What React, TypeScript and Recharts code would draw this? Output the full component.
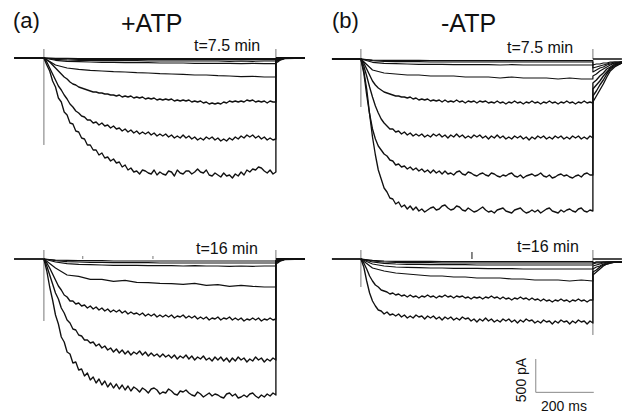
import React from "react";
import { LineChart, Line, XAxis, YAxis } from "recharts";

// ---------- time grids (ms) ----------
const T_FINE = [
  0, 10, 20, 30, 40, 50, 60, 70, 80, 90,
  100, 110, 120, 130, 140, 150, 160, 170, 180, 190,
  200, 210, 220, 230, 240, 250, 260, 270, 280, 290,
  300, 310, 320, 330, 340, 350, 360, 370, 380, 390,
  400, 410, 420, 430, 440, 450, 460, 470, 480, 490,
  500, 510, 520, 530, 540, 550, 560, 570, 580, 590,
  600, 610, 620, 630, 640, 650, 660, 670, 680, 690,
  700, 710, 720, 730, 740, 750, 760, 770, 780, 790,
  800,
];
const T_COARSE = [0, 40, 80, 120, 160, 200, 240, 280, 320, 360, 400, 440, 480, 520, 560, 600, 640, 680, 720, 760, 800];
const T_TAIL_A = [800, 806, 815, 830, 900];
const T_TAIL_B = [800, 812, 824, 836, 848, 860, 875, 900];
const T_PRE_A = [-103, -60, -20, 0];
const T_PRE_B = [-100, -60, -20, 0];
const I_PRE = [0, 0, 0, 0];
const T_POST = [800, 900];
const I_POST = [0, 0];
const T_ON = [0, 0];
const T_OFF = [800, 800];

// ---------- (a) +ATP, t = 7.5 min (pA) ----------
const A75_1 = [
  0, -105, -195, -345, -435, -600, -660, -810, -855, -975,
  -990, -1095, -1110, -1200, -1215, -1305, -1305, -1380, -1380, -1455,
  -1425, -1500, -1485, -1545, -1515, -1575, -1560, -1635, -1605, -1680,
  -1650, -1710, -1695, -1740, -1680, -1695, -1725, -1740, -1680, -1755,
  -1710, -1740, -1755, -1695, -1710, -1770, -1680, -1725, -1740, -1695,
  -1695, -1740, -1710, -1665, -1710, -1725, -1680, -1755, -1770, -1725,
  -1755, -1785, -1725, -1770, -1755, -1800, -1740, -1770, -1710, -1755,
  -1680, -1710, -1665, -1680, -1635, -1650, -1695, -1725, -1680, -1740,
  -1710,
];
const A75_2 = [
  0, -60, -150, -240, -330, -420, -480, -555, -615, -690,
  -735, -795, -825, -870, -885, -930, -930, -975, -960, -1005,
  -975, -1020, -1005, -1050, -1020, -1065, -1050, -1095, -1065, -1110,
  -1080, -1125, -1095, -1140, -1110, -1140, -1110, -1155, -1125, -1170,
  -1140, -1170, -1140, -1185, -1155, -1200, -1170, -1200, -1155, -1200,
  -1170, -1215, -1185, -1230, -1200, -1230, -1185, -1215, -1185, -1230,
  -1200, -1245, -1215, -1245, -1200, -1230, -1185, -1215, -1170, -1200,
  -1155, -1185, -1155, -1200, -1170, -1215, -1185, -1230, -1200, -1230,
  -1215,
];
const A75_3 = [
  0, -30, -60, -105, -150, -195, -240, -285, -315, -360,
  -390, -405, -435, -450, -465, -480, -495, -510, -510, -525,
  -525, -540, -540, -555, -555, -570, -555, -585, -570, -585,
  -570, -600, -585, -600, -585, -615, -600, -615, -600, -630,
  -615, -630, -615, -630, -615, -645, -630, -645, -630, -645,
  -630, -660, -645, -660, -645, -675, -660, -690, -675, -690,
  -675, -690, -660, -675, -645, -660, -645, -660, -645, -660,
  -630, -645, -630, -660, -645, -660, -645, -675, -645, -660,
  -660,
];
const A75_4 = [0, -105, -150, -170, -185, -195, -205, -210, -220, -225, -235, -240, -245, -255, -255, -265, -270, -280, -275, -285, -285];
const A75_5 = [0, -35, -50, -55, -60, -65, -65, -70, -70, -70, -75, -75, -75, -80, -80, -80, -80, -85, -80, -85, -85];
const A75_6 = [0, -20, -30, -35, -35, -40, -40, -40, -40, -45, -45, -45, -45, -45, -45, -45, -50, -45, -50, -45, -45];
const A75_7 = [0, -10, -15, -20, -20, -20, -20, -25, -25, -25, -25, -25, -25, -25, -25, -25, -25, -25, -25, -25, -25];
const A75_8 = [0, -5, -5, -10, -10, -10, -10, -10, -10, -10, -10, -10, -10, -10, -10, -10, -10, -10, -10, -10, -10];

// ---------- (a) +ATP, t = 16 min (pA) ----------
const A16_1 = [
  0, -180, -420, -615, -840, -975, -1170, -1245, -1395, -1425,
  -1560, -1545, -1665, -1650, -1755, -1710, -1815, -1770, -1860, -1800,
  -1890, -1830, -1920, -1860, -1935, -1875, -1950, -1890, -1965, -1905,
  -1980, -1920, -1950, -1995, -1935, -1965, -2010, -1950, -1935, -1965,
  -2025, -1995, -2010, -1950, -1980, -2025, -2040, -1980, -1995, -1965,
  -2010, -2040, -2055, -1995, -2025, -2070, -2040, -2010, -2055, -2025,
  -2040, -2070, -2085, -2025, -2010, -2055, -2025, -2085, -2070, -2040,
  -2070, -2025, -2010, -2055, -2085, -2040, -2070, -2025, -2055, -2010,
  -2040,
];
const A16_2 = [
  0, -105, -240, -375, -510, -600, -735, -810, -915, -960,
  -1050, -1065, -1140, -1155, -1215, -1215, -1260, -1245, -1305, -1275,
  -1335, -1305, -1365, -1335, -1395, -1350, -1410, -1365, -1425, -1380,
  -1440, -1395, -1425, -1380, -1440, -1395, -1455, -1410, -1455, -1425,
  -1470, -1425, -1470, -1440, -1485, -1440, -1500, -1455, -1485, -1440,
  -1500, -1455, -1515, -1470, -1500, -1455, -1515, -1485, -1530, -1470,
  -1515, -1470, -1530, -1485, -1545, -1485, -1530, -1470, -1515, -1485,
  -1545, -1500, -1530, -1470, -1515, -1485, -1545, -1500, -1530, -1485,
  -1515,
];
const A16_3 = [
  0, -60, -135, -225, -315, -405, -465, -540, -570, -630,
  -630, -675, -660, -705, -690, -735, -705, -750, -720, -765,
  -735, -780, -750, -795, -765, -795, -765, -810, -780, -825,
  -795, -825, -810, -840, -810, -855, -825, -855, -825, -870,
  -840, -870, -840, -870, -840, -885, -855, -870, -840, -885,
  -855, -885, -855, -900, -870, -900, -870, -915, -885, -900,
  -870, -915, -885, -900, -870, -915, -885, -915, -885, -930,
  -900, -915, -885, -915, -885, -930, -900, -915, -885, -915,
  -900,
];
const A16_4 = [0, -135, -240, -260, -305, -305, -335, -320, -350, -355, -365, -370, -380, -365, -395, -385, -410, -395, -410, -420, -420];
const A16_5 = [0, -45, -70, -80, -85, -90, -95, -95, -95, -100, -100, -100, -105, -100, -105, -105, -110, -105, -110, -105, -105];
const A16_6 = [0, -25, -40, -45, -50, -50, -55, -55, -55, -55, -60, -60, -60, -60, -60, -60, -60, -60, -60, -60, -60];
const A16_7 = [0, -15, -20, -25, -25, -25, -30, -30, -30, -30, -30, -30, -30, -30, -30, -30, -30, -30, -30, -30, -30];

// ---------- (b) -ATP, t = 7.5 min (pA) ----------
const B75_1 = [
  0, -180, -450, -825, -1170, -1440, -1665, -1800, -1935, -1995,
  -2085, -2100, -2175, -2145, -2220, -2190, -2250, -2205, -2265, -2220,
  -2280, -2250, -2295, -2265, -2235, -2220, -2265, -2250, -2205, -2190,
  -2235, -2265, -2250, -2205, -2220, -2265, -2280, -2235, -2265, -2295,
  -2280, -2250, -2220, -2265, -2295, -2280, -2310, -2265, -2250, -2235,
  -2280, -2295, -2310, -2265, -2250, -2235, -2280, -2310, -2295, -2265,
  -2295, -2265, -2310, -2280, -2250, -2235, -2280, -2295, -2310, -2265,
  -2295, -2265, -2250, -2280, -2295, -2250, -2235, -2280, -2295, -2265,
  -2280,
];
const B75_2 = [
  0, -210, -540, -825, -1050, -1200, -1305, -1365, -1425, -1455,
  -1515, -1530, -1590, -1575, -1620, -1605, -1650, -1620, -1665, -1635,
  -1680, -1650, -1695, -1665, -1710, -1665, -1710, -1680, -1725, -1680,
  -1725, -1710, -1740, -1695, -1680, -1725, -1740, -1695, -1710, -1740,
  -1755, -1725, -1710, -1740, -1755, -1710, -1725, -1755, -1770, -1740,
  -1755, -1725, -1710, -1755, -1770, -1740, -1785, -1755, -1740, -1725,
  -1755, -1740, -1710, -1755, -1770, -1740, -1785, -1770, -1740, -1725,
  -1755, -1740, -1770, -1785, -1755, -1740, -1770, -1725, -1710, -1740,
  -1740,
];
const B75_3 = [
  0, -105, -255, -420, -570, -705, -810, -900, -960, -1005,
  -1050, -1050, -1095, -1080, -1125, -1095, -1140, -1110, -1155, -1125,
  -1155, -1125, -1170, -1140, -1170, -1125, -1155, -1125, -1170, -1140,
  -1185, -1140, -1170, -1125, -1170, -1140, -1185, -1155, -1185, -1140,
  -1170, -1140, -1185, -1155, -1200, -1155, -1185, -1140, -1185, -1155,
  -1200, -1170, -1200, -1155, -1185, -1155, -1200, -1170, -1215, -1170,
  -1200, -1155, -1185, -1155, -1200, -1170, -1200, -1155, -1185, -1155,
  -1200, -1170, -1200, -1155, -1185, -1155, -1200, -1170, -1200, -1155,
  -1185,
];
const B75_4 = [
  0, -60, -150, -240, -330, -390, -435, -465, -495, -510,
  -525, -540, -555, -555, -570, -570, -585, -570, -600, -585,
  -615, -600, -615, -600, -630, -615, -630, -615, -645, -615,
  -645, -630, -645, -615, -645, -630, -660, -630, -645, -630,
  -660, -630, -645, -630, -660, -645, -660, -630, -660, -645,
  -675, -645, -660, -630, -660, -645, -675, -645, -660, -630,
  -660, -645, -675, -645, -660, -630, -660, -645, -675, -645,
  -660, -630, -660, -645, -675, -645, -660, -630, -660, -645,
  -660,
];
const B75_5 = [0, -165, -210, -225, -240, -240, -255, -255, -255, -270, -270, -270, -285, -270, -285, -285, -285, -300, -285, -300, -300];
const B75_6 = [0, -50, -65, -70, -75, -80, -80, -80, -85, -85, -85, -85, -90, -85, -90, -90, -90, -90, -90, -90, -90];
const B75_7 = [0, -25, -35, -40, -40, -40, -45, -45, -45, -45, -45, -45, -45, -45, -45, -45, -45, -45, -45, -45, -45];
const B75_8 = [0, -15, -20, -20, -20, -20, -25, -25, -25, -25, -25, -25, -25, -25, -25, -25, -25, -25, -25, -25, -25];
const B75_TAIL_1 = [-645, -555, -465, -375, -270, -180, -120, -60];
const B75_TAIL_2 = [-555, -480, -390, -315, -225, -150, -105, -60];
const B75_TAIL_3 = [-450, -390, -330, -255, -195, -135, -90, -60];
const B75_TAIL_4 = [-360, -315, -255, -210, -150, -120, -75, -45];
const B75_TAIL_5 = [-255, -225, -180, -150, -120, -90, -60, -45];
const B75_TAIL_6 = [-195, -165, -135, -120, -90, -75, -60, -45];
const B75_TAIL_7 = [-135, -120, -105, -90, -75, -60, -45, -45];
const B75_TAIL_8 = [-90, -75, -75, -60, -60, -45, -45, -45];

// ---------- (b) -ATP, t = 16 min (pA) ----------
const B16_1 = [
  0, -120, -330, -510, -630, -705, -765, -780, -825, -795,
  -840, -825, -855, -825, -870, -840, -885, -855, -885, -840,
  -870, -855, -900, -855, -885, -855, -900, -870, -915, -870,
  -900, -870, -915, -885, -915, -870, -900, -885, -930, -900,
  -945, -900, -930, -885, -930, -900, -945, -915, -945, -900,
  -930, -900, -945, -915, -960, -915, -945, -900, -930, -915,
  -960, -930, -960, -915, -945, -930, -975, -930, -960, -915,
  -945, -930, -975, -930, -960, -915, -945, -930, -975, -930,
  -960,
];
const B16_2 = [
  0, -60, -150, -255, -330, -390, -420, -465, -480, -495,
  -525, -510, -540, -525, -555, -540, -570, -540, -570, -555,
  -585, -555, -570, -540, -570, -555, -585, -555, -570, -540,
  -570, -555, -585, -555, -570, -555, -585, -570, -600, -570,
  -585, -570, -600, -570, -585, -555, -585, -570, -600, -570,
  -600, -585, -615, -585, -600, -570, -600, -585, -615, -585,
  -615, -600, -630, -600, -630, -615, -645, -615, -630, -600,
  -630, -615, -645, -615, -630, -600, -630, -615, -645, -615,
  -615,
];
const B16_3 = [0, -135, -180, -210, -225, -240, -255, -255, -270, -270, -285, -285, -285, -300, -300, -315, -315, -315, -330, -315, -330];
const B16_4 = [0, -75, -105, -120, -125, -130, -135, -135, -140, -140, -140, -145, -145, -145, -150, -150, -150, -150, -150, -150, -150];
const B16_5 = [0, -45, -65, -75, -80, -80, -85, -85, -85, -85, -90, -90, -90, -90, -90, -90, -90, -90, -90, -90, -90];
const B16_6 = [0, -30, -45, -50, -55, -55, -55, -60, -60, -60, -60, -60, -60, -60, -60, -60, -60, -60, -60, -60, -60];
const B16_7 = [0, -20, -30, -35, -35, -35, -35, -40, -40, -40, -40, -40, -40, -40, -40, -40, -40, -40, -40, -40, -40];
const B16_TAIL_1 = [-240, -195, -150, -105, -75, -60, -45, -45];
const B16_TAIL_2 = [-195, -165, -120, -90, -75, -60, -45, -45];
const B16_TAIL_3 = [-150, -120, -105, -75, -60, -45, -45, -45];
const B16_TAIL_4 = [-105, -90, -75, -60, -45, -45, -45, -45];
const B16_TAIL_5 = [-75, -60, -60, -45, -45, -45, -45, -45];
const B16_TAIL_6 = [-60, -45, -45, -45, -45, -45, -45, -45];

// tails after the step in (a)
const A_TAIL_1 = [-75, -60, -30, -8, 0];
const A_TAIL_2 = [-60, -45, -25, -5, 0];
const A_TAIL_3 = [-45, -35, -20, -5, 0];
const A_TAIL_4 = [-30, -25, -15, -5, 0];
const A_TAIL_5 = [-20, -15, -10, 0, 0];
const A_TAIL_6 = [-15, -10, -5, 0, 0];

// capacitive transients (pA)
const CAP_ON_A75 = [135, -1305];
const CAP_OFF_A75 = [135, 0];
const CAP_ON_B75 = [150, -720];
const CAP_OFF_B75 = [150, 0];
const CAP_ON_A16 = [135, -930];
const CAP_OFF_A16 = [135, 0];
const CAP_ON_B16 = [135, -420];
const CAP_OFF_B16 = [135, -1140];

// small artifacts
const ART_T_1 = [134, 134];
const ART_T_2 = [376, 376];
const ART_T_3 = [383, 383];
const ART_I_SMALL = [0, 45];
const ART_I_B = [0, 105];

// scale bar: 200 ms x 500 pA
const SCALE_T = [603, 603, 803];
const SCALE_I = [-1500, -2000, -2000];

// ---------- geometry ----------
const PX_PER_MS = 0.29;
const PX_PER_PA = 1 / 15;
const T_MIN = -110;
const T_MAX = 910;

type Pt = { t: number; i: number };
const zip = (ts: number[], vs: number[]): Pt[] => {
  const n = Math.min(ts.length, vs.length);
  const out: Pt[] = [];
  for (let k = 0; k < n; k++) out.push({ t: ts[k], i: vs[k] });
  return out;
};
const trace = (bt: number[], bv: number[], tt?: number[], tv?: number[]): Pt[] =>
  tt && tv ? [...zip(bt, bv), ...zip(tt, tv)] : zip(bt, bv);

type Series = { pts: Pt[]; color: string; w: number };

const K = "#111";
const G = "#777";
const BIG = 1.35;

const mk = (pts: Pt[], color = K, w = 1.1): Series => ({ pts, color, w });

const PANELS = [
  {
    id: "a75",
    x0: 44,
    base: 58,
    top: 13,
    bottom: 235,
    series: [
      mk(zip(T_ON, CAP_ON_A75), G, 1),
      mk(zip(T_OFF, CAP_OFF_A75), G, 1),
      mk(zip(T_PRE_A, I_PRE), K, 1.8),
      mk(zip(T_POST, I_POST), K, 1.8),
      mk(trace(T_COARSE, A75_8, T_TAIL_A, A_TAIL_6)),
      mk(trace(T_COARSE, A75_7, T_TAIL_A, A_TAIL_6)),
      mk(trace(T_COARSE, A75_6, T_TAIL_A, A_TAIL_5)),
      mk(trace(T_COARSE, A75_5, T_TAIL_A, A_TAIL_5)),
      mk(trace(T_COARSE, A75_4, T_TAIL_A, A_TAIL_4), K, 1.2),
      mk(trace(T_FINE, A75_3, T_TAIL_A, A_TAIL_3), K, BIG),
      mk(trace(T_FINE, A75_2, T_TAIL_A, A_TAIL_2), K, BIG),
      mk(trace(T_FINE, A75_1, T_TAIL_A, A_TAIL_1), K, BIG),
    ],
  },
  {
    id: "b75",
    x0: 361,
    base: 59,
    top: 14,
    bottom: 235,
    series: [
      mk(zip(T_ON, CAP_ON_B75), G, 1),
      mk(zip(T_OFF, CAP_OFF_B75), G, 1),
      mk(zip(T_PRE_B, I_PRE), K, 1.8),
      mk(zip(T_POST, I_POST), K, 1.6),
      mk(trace(T_COARSE, B75_8, T_TAIL_B, B75_TAIL_8)),
      mk(trace(T_COARSE, B75_7, T_TAIL_B, B75_TAIL_7)),
      mk(trace(T_COARSE, B75_6, T_TAIL_B, B75_TAIL_6)),
      mk(trace(T_COARSE, B75_5, T_TAIL_B, B75_TAIL_5), K, 1.2),
      mk(trace(T_FINE, B75_4, T_TAIL_B, B75_TAIL_4), K, BIG),
      mk(trace(T_FINE, B75_3, T_TAIL_B, B75_TAIL_3), K, BIG),
      mk(trace(T_FINE, B75_2, T_TAIL_B, B75_TAIL_2), K, BIG),
      mk(trace(T_FINE, B75_1, T_TAIL_B, B75_TAIL_1), K, BIG),
    ],
  },
  {
    id: "a16",
    x0: 44,
    base: 259,
    top: 214,
    bottom: 414,
    series: [
      mk(zip(T_ON, CAP_ON_A16), G, 1),
      mk(zip(T_OFF, CAP_OFF_A16), G, 1),
      mk(zip(ART_T_1, ART_I_SMALL), G, 1),
      mk(zip(ART_T_2, ART_I_SMALL), G, 1),
      mk(zip(T_PRE_A, I_PRE), K, 1.8),
      mk(zip(T_POST, I_POST), K, 1.8),
      mk(trace(T_COARSE, A16_7, T_TAIL_A, A_TAIL_6)),
      mk(trace(T_COARSE, A16_6, T_TAIL_A, A_TAIL_5)),
      mk(trace(T_COARSE, A16_5, T_TAIL_A, A_TAIL_4)),
      mk(trace(T_COARSE, A16_4, T_TAIL_A, A_TAIL_4), K, 1.2),
      mk(trace(T_FINE, A16_3, T_TAIL_A, A_TAIL_3), K, BIG),
      mk(trace(T_FINE, A16_2, T_TAIL_A, A_TAIL_2), K, BIG),
      mk(trace(T_FINE, A16_1, T_TAIL_A, A_TAIL_1), K, BIG),
    ],
  },
  {
    id: "b16",
    x0: 361,
    base: 259,
    top: 214,
    bottom: 414,
    series: [
      mk(zip(T_ON, CAP_ON_B16), G, 1),
      mk(zip(T_OFF, CAP_OFF_B16), G, 1),
      mk(zip(ART_T_3, ART_I_B), K, 1),
      mk(zip(T_PRE_B, I_PRE), K, 1.8),
      mk(zip(T_POST, I_POST), K, 1.6),
      mk(trace(T_COARSE, B16_7, T_TAIL_B, B16_TAIL_6)),
      mk(trace(T_COARSE, B16_6, T_TAIL_B, B16_TAIL_6)),
      mk(trace(T_COARSE, B16_5, T_TAIL_B, B16_TAIL_5)),
      mk(trace(T_COARSE, B16_4, T_TAIL_B, B16_TAIL_4)),
      mk(trace(T_COARSE, B16_3, T_TAIL_B, B16_TAIL_3), K, 1.2),
      mk(trace(T_FINE, B16_2, T_TAIL_B, B16_TAIL_2), K, BIG),
      mk(trace(T_FINE, B16_1, T_TAIL_B, B16_TAIL_1), K, BIG),
      mk(zip(SCALE_T, SCALE_I), "#888", 1),
    ],
  },
];

const FONT = "'Liberation Sans', Arial, Helvetica, sans-serif";

function Panel({ p }: { p: (typeof PANELS)[number] }) {
  const left = p.x0 + T_MIN * PX_PER_MS;
  const width = (T_MAX - T_MIN) * PX_PER_MS;
  const height = p.bottom - p.top;
  const yMax = (p.base - p.top) / PX_PER_PA;
  const yMin = -(p.bottom - p.base) / PX_PER_PA;
  return (
    <div style={{ position: "absolute", left, top: p.top, width, height }}>
      <LineChart width={width} height={height} margin={{ top: 0, right: 0, bottom: 0, left: 0 }}>
        <XAxis type="number" dataKey="t" domain={[T_MIN, T_MAX]} hide allowDataOverflow />
        <YAxis type="number" dataKey="i" domain={[yMin, yMax]} hide allowDataOverflow />
        {p.series.map((s, k) => (
          <Line
            key={p.id + k}
            data={s.pts}
            dataKey="i"
            type="linear"
            stroke={s.color}
            strokeWidth={s.w}
            strokeLinejoin="round"
            dot={false}
            activeDot={false}
            isAnimationActive={false}
          />
        ))}
      </LineChart>
    </div>
  );
}

export default function App() {
  return (
    <div
      style={{
        position: "absolute",
        left: 0,
        top: 0,
        width: 626,
        height: 414,
        overflow: "hidden",
        background: "#fff",
      }}
    >
      {PANELS.map((p) => (
        <Panel key={p.id} p={p} />
      ))}
      <svg width={626} height={414} style={{ position: "absolute", left: 0, top: 0 }}>
        <g fontFamily={FONT} fill="#111">
          <text x={13} y={28} fontSize={22}>(a)</text>
          <text x={121} y={32} fontSize={25}>+ATP</text>
          <text x={332} y={28} fontSize={22}>(b)</text>
          <text x={441} y={32} fontSize={25}>-ATP</text>
          <text x={194} y={51} fontSize={16}>t=7.5 min</text>
          <text x={507} y={53} fontSize={16}>t=7.5 min</text>
          <text x={196} y={254} fontSize={16}>t=16 min</text>
          <text x={517} y={252} fontSize={16}>t=16 min</text>
          <text x={0} y={0} fontSize={14} textAnchor="middle" transform="translate(526,380) rotate(-90)">500 pA</text>
          <text x={541} y={411} fontSize={14}>200 ms</text>
        </g>
      </svg>
    </div>
  );
}
